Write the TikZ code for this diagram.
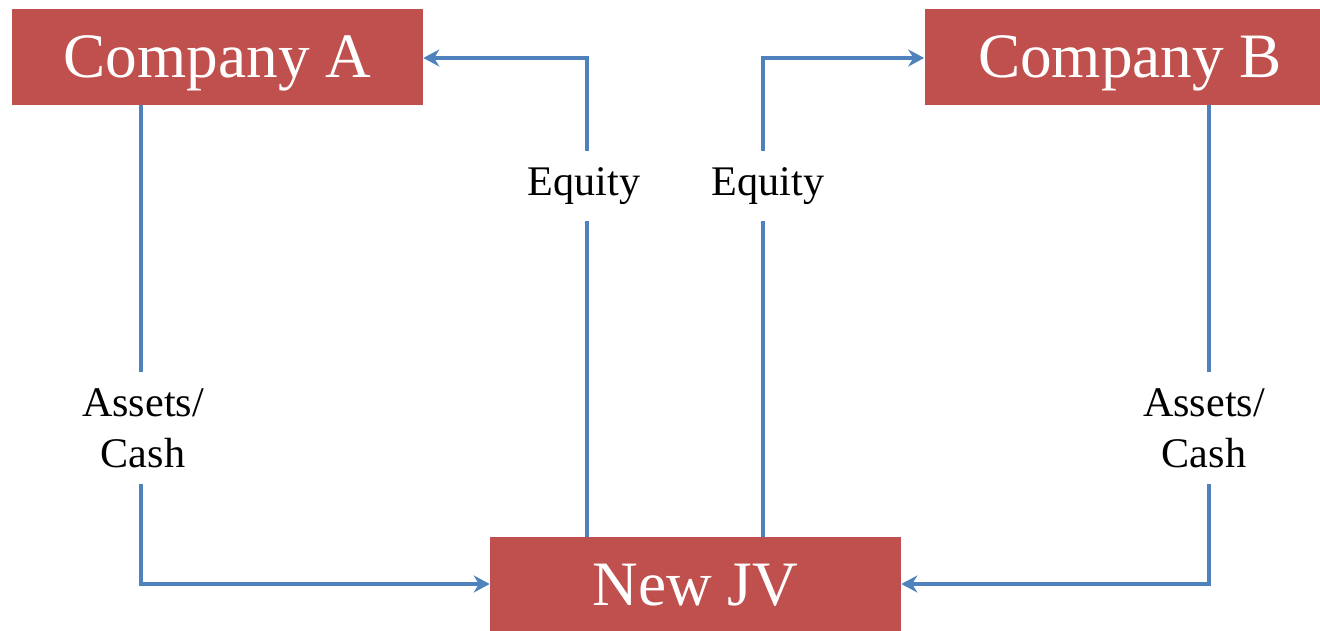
\documentclass[tikz,border=0pt]{standalone}
\usepackage{fontspec}
\setmainfont{LiberationSerif}[Extension=.ttf, UprightFont=*-Regular, BoldFont=*-Bold]
\usetikzlibrary{calc, arrows.meta}

\definecolor{boxred}{HTML}{C0504D}
\definecolor{flowblue}{HTML}{4F81BD}

\begin{document}
\begin{tikzpicture}[x=0.02cm, y=-0.02cm,
    party/.style={fill=boxred, minimum width=8.22cm, minimum height=1.92cm, text=white, text depth=0pt, font=\fontsize{36}{40}\selectfont},
    flow/.style={draw=flowblue, line width=2.3pt},
    lbl/.style={fill=white, inner xsep=0.15cm, inner ysep=0.32cm, align=center, font=\fontsize{24}{29}\selectfont}]
\clip (0,0) rectangle (1320,631);

% Companies
\node[party] (compA) at (217.5,57) {Company A};
\node[party] (compB) at (1130,57) {Company B};

% Joint venture
\node[party] (newjv) at (695.5,585) {New JV};

% Corners of the connectors
\coordinate (cashAcorner) at (141,584);
\coordinate (cashBcorner) at (1209,584);
\coordinate (eqAcorner) at (587,58);
\coordinate (eqBcorner) at (763,58);

% Arrows
\draw[flow, ->, >={Stealth[length=0.32cm, width=0.34cm]}] (compA.south -| cashAcorner) -- (cashAcorner) -- (newjv.west |- cashAcorner);
\draw[flow, ->, >={Stealth[length=0.32cm, width=0.34cm]}] (compB.south -| cashBcorner) -- (cashBcorner) -- (newjv.east |- cashBcorner);
\draw[flow, ->, >={Stealth[length=0.32cm, width=0.34cm]}] (newjv.north -| eqAcorner) -- (eqAcorner) -- (compA.east |- eqAcorner);
\draw[flow, ->, >={Stealth[length=0.32cm, width=0.34cm]}] (newjv.north -| eqBcorner) -- (eqBcorner) -- (compB.west |- eqBcorner);

% Labels on the lines
\node[lbl] (eqAlbl) at (584,186) {Equity};
\node[lbl] (eqBlbl) at (768,186) {Equity};
\node[lbl] (cashAlbl) at (143,428) {Assets/\\Cash};
\node[lbl] (cashBlbl) at (1204,428) {Assets/\\Cash};
\end{tikzpicture}
\end{document}
